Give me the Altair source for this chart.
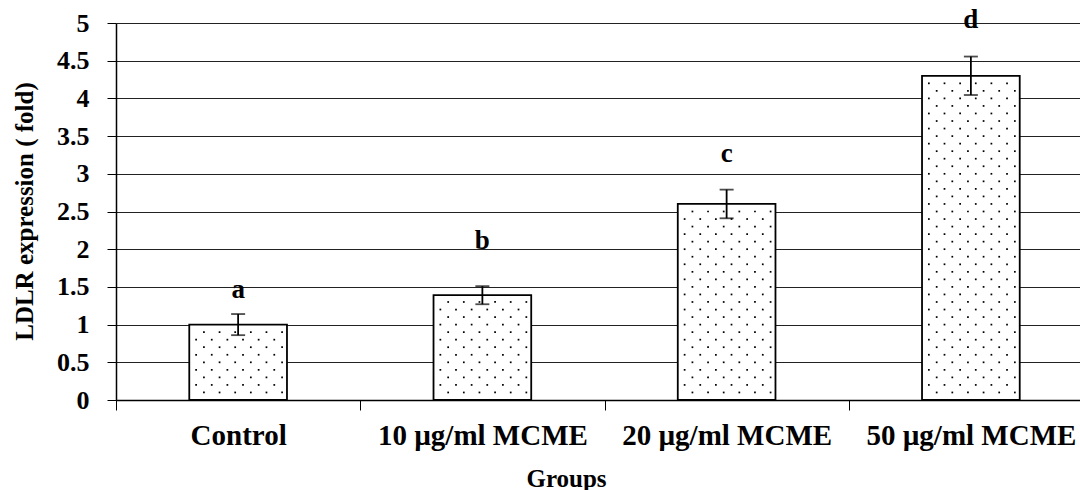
import altair as alt
import pandas as pd

# ---- data ----
groups = ["Control", "10 µg/ml MCME", "20 µg/ml MCME", "50 µg/ml MCME"]
fold = [1.0, 1.39, 2.6, 4.3]
err = [0.14, 0.12, 0.19, 0.255]
letters = ["a", "b", "c", "d"]
letter_y = [1.35, 2.0, 3.16, 4.93]

FONT = "Liberation Serif"

df = pd.DataFrame({
    "group": groups,
    "fold": fold,
    "lo": [v - e for v, e in zip(fold, err)],
    "hi": [v + e for v, e in zip(fold, err)],
    "letter": letters,
    "ly": letter_y,
})

# decorative dot texture inside each bar (derived from the bar values)
dots = []
for i, v in enumerate(fold):
    k = 0
    while k * 0.1 <= v - 0.04:
        start = 0.07 if k % 2 == 0 else 0.15
        j = 0
        while start + 0.16 * j < 0.97:
            dots.append({"xi": i + 0.3 + 0.4 * (start + 0.16 * j), "y": k * 0.1})
            j += 1
        k += 1
dots_df = pd.DataFrame(dots)

W = 964
RANGE = [0, 977]

xband = alt.X(
    "group:N",
    sort=groups,
    scale=alt.Scale(domain=groups, paddingInner=0, paddingOuter=0, range=RANGE),
    axis=alt.Axis(
        title="Groups",
        tickBand="extent",
        tickSize=10,
        tickColor="black",
        tickWidth=1,
        domainColor="black",
        domainWidth=1.5,
        labelAngle=0,
        labelFont=FONT,
        labelFontWeight="bold",
        labelFontSize=29,
        labelColor="black",
        labelPadding=11,
        labelLimit=0,
        grid=False,
        titleFont=FONT,
        titleFontWeight="bold",
        titleFontSize=25,
        titleColor="black",
        titleX=450,
        titleY=86,
        titleAlign="center",
        titleBaseline="alphabetic",
    ),
)
xband_noaxis = alt.X(
    "group:N",
    sort=groups,
    scale=alt.Scale(domain=groups, paddingInner=0, paddingOuter=0, range=RANGE),
    axis=None,
)

yscale = alt.Scale(domain=[0, 5], nice=False)
yaxis = alt.Axis(
    title="LDLR expression ( fold)",
    values=[0, 0.5, 1, 1.5, 2, 2.5, 3, 3.5, 4, 4.5, 5],
    format="~g",
    tickSize=9,
    tickColor="black",
    domainColor="black",
    domainWidth=1.5,
    gridColor="#222222",
    gridWidth=1,
    labelFont=FONT,
    labelFontWeight="bold",
    labelFontSize=26,
    labelColor="black",
    labelPadding=18,
    titleFont=FONT,
    titleFontWeight="bold",
    titleFontSize=25,
    titleColor="black",
    titleX=-92,
    titleY=188,
    titleAngle=270,
    titleAlign="center",
    titleBaseline="middle",
)

base = alt.Chart(df)

bars = base.mark_bar(
    fill="white", stroke="black", strokeWidth=1.8, width=alt.RelativeBandSize(0.4)
).encode(x=xband, y=alt.Y("fold:Q", scale=yscale, axis=yaxis))

dot_layer = alt.Chart(dots_df).mark_square(size=3, color="black", opacity=1).encode(
    x=alt.X("xi:Q", scale=alt.Scale(domain=[0, 4], range=RANGE, nice=False, zero=False), axis=None),
    y=alt.Y("y:Q", scale=yscale, axis=yaxis),
)

rule = base.mark_rule(color="black", strokeWidth=1.8).encode(
    x=xband_noaxis, y=alt.Y("lo:Q", scale=yscale, axis=yaxis), y2="hi:Q"
)
cap_hi = base.mark_tick(color="black", size=14, thickness=1.8).encode(
    x=xband_noaxis, y=alt.Y("hi:Q", scale=yscale, axis=yaxis)
)
cap_lo = base.mark_tick(color="black", size=14, thickness=1.8).encode(
    x=xband_noaxis, y=alt.Y("lo:Q", scale=yscale, axis=yaxis)
)

txt = base.mark_text(
    font=FONT, fontWeight="bold", fontSize=27, color="black", baseline="alphabetic"
).encode(x=xband_noaxis, y=alt.Y("ly:Q", scale=yscale, axis=yaxis), text="letter:N")

chart = (
    alt.layer(bars, dot_layer, rule, cap_hi, cap_lo, txt)
    .resolve_scale(x="independent")
    .properties(
        width=W,
        height=377,
        autosize=alt.AutoSizeParams(type="none"),
        padding={"left": 116, "top": 23, "right": 0, "bottom": 90},
    )
    .configure_view(strokeWidth=0)
    .configure(background="white")
)

chart.save("out.html", embed_options={"renderer": "svg", "actions": False})
